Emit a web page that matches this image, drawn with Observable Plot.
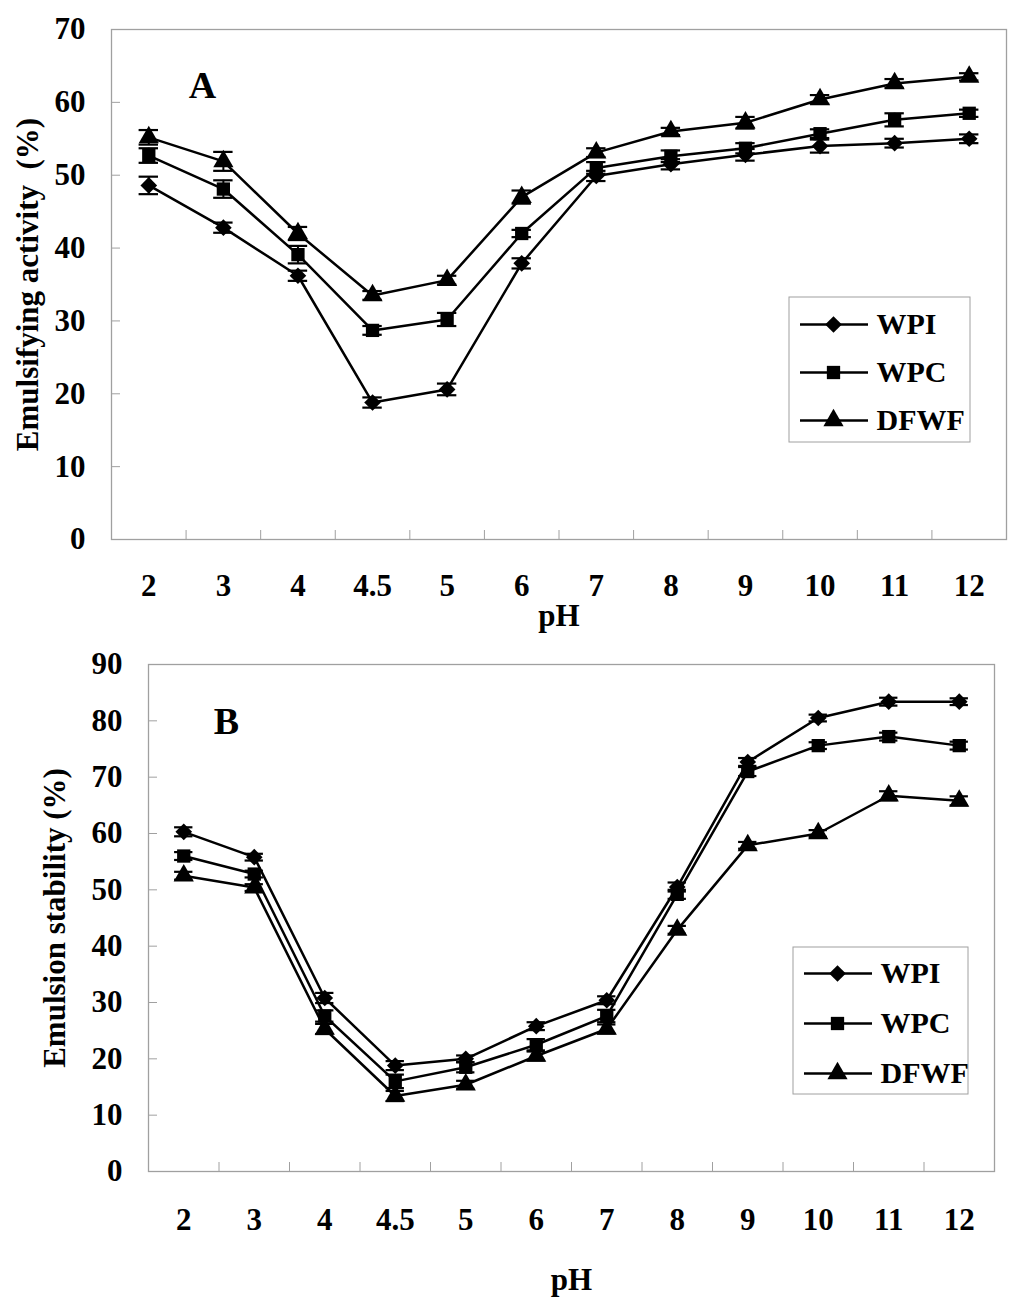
<!DOCTYPE html>
<html>
<head>
<meta charset="utf-8">
<script src="https://cdn.jsdelivr.net/npm/d3@7"></script>
<script src="https://cdn.jsdelivr.net/npm/@observablehq/plot@0.6"></script>
<style>
  body { margin: 0; background: #fff; }
  .panel { position: relative; width: 1024px; }
  .panel svg { display: block; }
  .legend { position: absolute; }
</style>
</head>
<body>
<div id="panelA" class="panel"></div>
<div id="panelB" class="panel"></div>
<script>
// pH categories (equally spaced on the axis, like the original)
const phLabels = ["2", "3", "4", "4.5", "5", "6", "7", "8", "9", "10", "11", "12"];
const seriesNames = ["WPI", "WPC", "DFWF"];
const seriesSymbols = ["diamond2", "square", "triangle"];

// A: emulsifying activity (%)
const activityWPI  = [48.6, 42.8, 36.2, 18.8, 20.6, 37.9, 49.9, 51.5, 52.8, 54.0, 54.4, 55.0];
const activityWPC  = [52.7, 48.1, 39.1, 28.7, 30.2, 42.0, 51.0, 52.6, 53.7, 55.7, 57.6, 58.5];
const activityDFWF = [55.2, 51.9, 42.0, 33.5, 35.6, 47.0, 53.1, 56.0, 57.2, 60.4, 62.6, 63.5];
const activityErrWPI  = [1.2, 0.7, 0.7, 0.7, 0.8, 0.7, 0.7, 0.7, 0.8, 0.9, 0.6, 0.6];
const activityErrWPC  = [1.0, 1.2, 1.2, 0.6, 0.9, 0.5, 0.8, 0.8, 0.7, 0.6, 0.9, 0.5];
const activityErrDFWF = [1.0, 1.3, 0.9, 0.6, 0.6, 0.9, 0.6, 0.5, 0.8, 0.6, 0.6, 0.5];

// B: emulsion stability (%)
const stabilityWPI  = [60.3, 55.8, 30.8, 18.8, 20.0, 25.8, 30.4, 50.5, 72.7, 80.5, 83.4, 83.4];
const stabilityWPC  = [56.0, 52.8, 27.6, 16.0, 18.5, 22.5, 27.6, 49.2, 71.0, 75.6, 77.2, 75.6];
const stabilityDFWF = [52.5, 50.4, 25.3, 13.4, 15.4, 20.5, 25.3, 42.9, 57.9, 60.0, 66.7, 65.8];
const stabilityErrWPI  = [0.8, 0.6, 0.9, 0.8, 0.6, 0.7, 0.7, 0.8, 0.7, 0.6, 0.7, 0.6];
const stabilityErrWPC  = [0.7, 0.6, 1.0, 1.2, 0.9, 1.0, 1.1, 0.8, 0.8, 0.6, 0.7, 0.7];
const stabilityErrDFWF = [0.7, 0.6, 0.9, 0.9, 0.7, 0.8, 0.8, 0.7, 0.6, 0.6, 0.8, 0.8];

const font = "'Liberation Serif', 'Times New Roman', serif";

function toRows(lists, errs) {
  return seriesNames.flatMap((s, k) =>
    lists[k].map((v, i) => ({series: s, i, ph: phLabels[i], v, e: errs[k][i]})));
}

function makeLegend(w, h, rowY) {
  return Plot.plot({
    width: w, height: h, margin: 0,
    x: {domain: [0, w], range: [0, w], axis: null},
    y: {type: "point", domain: seriesNames, range: rowY, padding: 0, axis: null},
    symbol: {domain: seriesNames, range: seriesSymbols},
    style: {fontFamily: font, fontWeight: "bold", background: "white", color: "black", overflow: "visible"},
    marks: [
      Plot.frame({stroke: "#a0a0a0", inset: 0.5}),
      Plot.ruleY(seriesNames, {y: d => d, x1: 12, x2: 80, stroke: "black", strokeWidth: 2.5}),
      Plot.dot(seriesNames, {x: 45, y: d => d, symbol: d => d, fill: "black", r: 7.5}),
      Plot.text(seriesNames, {x: 88, y: d => d, text: d => d, textAnchor: "start", fontSize: 30, fontWeight: "bold"})
    ]
  });
}

function makePanel(cfg) {
  const rows = toRows(cfg.values, cfg.errs);
  const idx = d3.range(phLabels.length);
  const bounds = idx.slice(1).map(i => i - 0.5);
  const capW = 0.13;
  return Plot.plot({
    width: 1024, height: cfg.height,
    marginLeft: cfg.ml, marginRight: cfg.mr, marginTop: cfg.mt, marginBottom: cfg.mb,
    x: {domain: [-0.5, phLabels.length - 0.5]},
    y: {domain: [0, cfg.ymax]},
    symbol: {domain: seriesNames, range: seriesSymbols},
    style: {fontFamily: font, fontWeight: "bold", fontSize: "31px", background: "white", color: "black", overflow: "visible"},
    marks: [
      Plot.frame({stroke: "#a0a0a0", strokeWidth: 1.3}),
      Plot.axisY({ticks: cfg.yTicks, tickSize: -9, tickFormat: () => "", stroke: "#a0a0a0", label: null}),
      Plot.axisY({ticks: cfg.yTicks, tickSize: 0, tickPadding: 26, fontSize: 31, fontWeight: "bold",
        label: cfg.yLabel, labelArrow: "none", labelAnchor: "center", labelOffset: cfg.yLabelOffset}),
      Plot.axisX({ticks: bounds, tickSize: -9, tickFormat: () => "", stroke: "#a0a0a0", label: null}),
      Plot.axisX({ticks: idx, tickSize: 0, tickPadding: cfg.xPad, tickFormat: i => phLabels[i], fontSize: 31, fontWeight: "bold",
        label: "pH", labelArrow: "none", labelAnchor: "center", labelOffset: cfg.xLabelOffset}),
      // error bars
      Plot.ruleX(rows, {x: "i", y1: d => d.v - d.e, y2: d => d.v + d.e, stroke: "black", strokeWidth: 2}),
      Plot.ruleY(rows, {y: d => d.v + d.e, x1: d => d.i - capW, x2: d => d.i + capW, stroke: "black", strokeWidth: 2.2}),
      Plot.ruleY(rows, {y: d => d.v - d.e, x1: d => d.i - capW, x2: d => d.i + capW, stroke: "black", strokeWidth: 2.2}),
      Plot.line(rows, {x: "i", y: "v", z: "series", stroke: "black", strokeWidth: 2.5}),
      Plot.dot(rows, {x: "i", y: "v", symbol: "series", fill: "black", r: 7.5}),
      Plot.text([cfg.tag], {frameAnchor: "top-left", dx: cfg.tagDx, dy: cfg.tagDy, textAnchor: "middle", lineAnchor: "middle", fontSize: 38, fontWeight: "bold"})
    ]
  });
}

const chartA = makePanel({
  height: 640, ml: 111, mr: 18, mt: 29, mb: 101,
  ymax: 70, yTicks: d3.range(0, 71, 10),
  values: [activityWPI, activityWPC, activityDFWF],
  errs: [activityErrWPI, activityErrWPC, activityErrDFWF],
  yLabel: "Emulsifying activity\u00a0\u00a0(%)", yLabelOffset: 96,
  xPad: 34, xLabelOffset: 86,
  tag: "A", tagDx: 91, tagDy: 56
});
const chartB = makePanel({
  height: 666, ml: 148, mr: 30, mt: 24, mb: 135,
  ymax: 90, yTicks: d3.range(0, 91, 10),
  values: [stabilityWPI, stabilityWPC, stabilityDFWF],
  errs: [stabilityErrWPI, stabilityErrWPC, stabilityErrDFWF],
  yLabel: "Emulsion stability (%)", yLabelOffset: 106,
  xPad: 36, xLabelOffset: 118,
  tag: "B", tagDx: 78, tagDy: 57
});

d3.select('#panelA').append(() => chartA);
d3.select('#panelB').append(() => chartB);

const legendA = makeLegend(182, 146, [27, 124]);
const legendB = makeLegend(176, 148, [27, 127]);
d3.select('#panelA').append(() => legendA).attr('class', 'legend').style('left', '788px').style('top', '296px');
d3.select('#panelB').append(() => legendB).attr('class', 'legend').style('left', '792px').style('top', '306px');
</script>
</body>
</html>
